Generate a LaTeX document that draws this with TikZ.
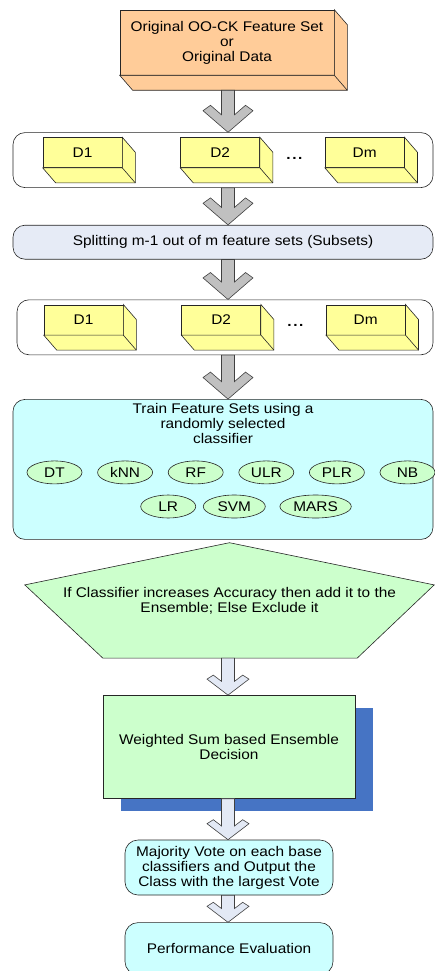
\documentclass[tikz,border=0pt]{standalone}
\usepackage{fontspec}
\setmainfont{Liberation Sans}[FakeStretch=1.1]
\usetikzlibrary{shadows, positioning, calc, shapes, backgrounds}

\definecolor{boxorange}{HTML}{FFCC99}
\definecolor{boxyellow}{HTML}{FFFF99}
\definecolor{boxsplit}{HTML}{E6EBF6}
\definecolor{boxcyan}{HTML}{CCFFFF}
\definecolor{boxgreen}{HTML}{CCFFCC}
\definecolor{shadowblue}{HTML}{4674C4}
\definecolor{arrowgray}{HTML}{C0C0C0}
\definecolor{arrowlight}{HTML}{E3E9F5}

\tikzset{
  boxline/.style={draw=black!85, line width=0.6pt},
  arrowline/.style={draw=black!75, line width=0.6pt, line join=miter},
  cubebox/.style={rectangle, boxline, align=center},
  dbox/.style={cubebox, fill=boxyellow, minimum width=79pt, minimum height=30pt},
  holder/.style={rectangle, boxline, rounded corners=12pt},
  algo/.style={ellipse, boxline, fill=boxgreen, inner sep=3pt, minimum width=55pt, minimum height=23pt},
  stage/.style={rectangle, boxline, align=center, inner sep=3pt},
  dotsnode/.style={inner sep=0pt, font=\fontsize{14}{15}\selectfont\bfseries}
}

% bottom and right faces of a box node
\newcommand{\cubeside}[2]{%
  \filldraw[fill=#2, boxline] (#1.south west) -- ([shift={(13pt,-15pt)}]#1.south west)
    -- ([shift={(13pt,-15pt)}]#1.south east) -- ([shift={(13pt,-15pt)}]#1.north east)
    -- (#1.north east) -- (#1.south east) -- cycle;
  \draw[boxline] (#1.south east) -- ([shift={(13pt,-15pt)}]#1.south east);
}

% block arrow: fill, start, tip, half width, head height
\newcommand{\chev}[5]{%
  \pgfmathsetmacro\chW{#4}%
  \pgfmathsetmacro\chH{#5}%
  \pgfmathsetmacro\chA{0.8*\chH}%
  \pgfmathsetmacro\chC{0.3*\chW}%
  \pgfmathsetmacro\chI{\chH-\chA/\chW*(\chW-\chC-6.5)}%
  \filldraw[fill=#1, arrowline] let \p3=(axis), \p1=(#2), \p2=(#3) in
    (\x3,\y2) -- ({\x3-\chW pt},{\y2+\chA pt}) -- ({\x3-\chW pt+\chC pt},{\y2+\chH pt})
    -- ({\x3-6.5pt},{\y2+\chI pt}) -- ({\x3-6.5pt},\y1) -- ({\x3+6.5pt},\y1)
    -- ({\x3+6.5pt},{\y2+\chI pt}) -- ({\x3+\chW pt-\chC pt},{\y2+\chH pt})
    -- ({\x3+\chW pt},{\y2+\chA pt}) -- cycle;
}

\begin{document}
\begin{tikzpicture}[x=1pt, y=1pt, font=\fontsize{14}{15}\selectfont]
\useasboundingbox (0,0) rectangle (434,-971);
\coordinate (axis) at (228,0);

% source data
\node[cubebox, fill=boxorange, minimum width=214pt, minimum height=65pt] (orig) at (227,-42.5)
  {Original OO-CK Feature Set\\or\\Original Data};
\cubeside{orig}{boxorange}

% feature sets
\node[holder, below=57pt of orig, xshift=-4pt, minimum width=420pt, minimum height=55pt] (sets) {};
\node[dbox, below right=5pt and 30pt of sets.north west] (setsA) {D1};
\node[dbox, right=58pt of setsA] (setsB) {D2};
\node[dbox, right=65pt of setsB] (setsM) {Dm};
\node[dotsnode, xshift=2pt, yshift=-6pt] (setsDots) at ($(setsB.east)!0.5!(setsM.west)$) {.\kern1.5pt.\kern1.5pt.};
\cubeside{setsA}{boxyellow}
\cubeside{setsB}{boxyellow}
\cubeside{setsM}{boxyellow}

\node[stage, holder, fill=boxsplit, below=37pt of sets, minimum width=420pt, minimum height=34pt] (split)
  {Splitting m-1 out of m feature sets (Subsets)};

% subsets
\node[holder, below=40pt of split, xshift=2pt, minimum width=416pt, minimum height=55pt] (subs) {};
\node[dbox, below right=5pt and 27pt of subs.north west] (subsA) {D1};
\node[dbox, right=58pt of subsA] (subsB) {D2};
\node[dbox, right=65pt of subsB] (subsM) {Dm};
\node[dotsnode, xshift=2pt, yshift=-6pt] (subsDots) at ($(subsB.east)!0.5!(subsM.west)$) {.\kern1.5pt.\kern1.5pt.};
\cubeside{subsA}{boxyellow}
\cubeside{subsB}{boxyellow}
\cubeside{subsM}{boxyellow}

% training with a random classifier
\node[holder, fill=boxcyan, below=44pt of subs, xshift=-2pt, minimum width=420pt, minimum height=140pt] (train) {};
\node[align=center, below=1pt of train.north] (trainTxt) {Train Feature Sets using a\\randomly selected\\classifier};
\node[algo, right=14pt of train.west, yshift=-3pt] (dt) {DT};
\node[algo, right=15pt of dt] (knn) {kNN};
\node[algo, right=15pt of knn] (rf) {RF};
\node[algo, right=15pt of rf] (ulr) {ULR};
\node[algo, right=15pt of ulr] (plr) {PLR};
\node[algo, right=15pt of plr] (nb) {NB};
\node[algo, minimum width=62pt, below=10.5pt of ulr, xshift=-32pt] (svm) {SVM};
\node[algo, left=7pt of svm] (lr) {LR};
\node[algo, right=14pt of svm] (mars) {MARS};

% selection step
\node[align=center, below=3pt of train, xshift=6.5pt, minimum width=409pt, minimum height=115pt] (select)
  {If Classifier increases Accuracy then add it to the\\Ensemble; Else Exclude it};
\begin{scope}[on background layer]
  \filldraw[fill=boxgreen, boxline] (select.north) -- ([yshift=15.5pt]select.east)
    -- ([xshift=-77pt]select.south east) -- ([xshift=78pt]select.south west)
    -- ([yshift=15.5pt]select.west) -- cycle;
\end{scope}

\node[stage, fill=boxgreen, below=37pt of select, xshift=-0.5pt, minimum width=252pt, minimum height=103pt,
  general shadow={shadow xshift=18pt, shadow yshift=-13pt, fill=shadowblue}] (ensemble)
  {Weighted Sum based Ensemble\\Decision};

\node[stage, fill=boxcyan, rounded corners=13pt, below=41pt of ensemble, minimum width=208pt, minimum height=55pt] (vote)
  {Majority Vote on each base\\classifiers and Output the\\Class with the largest Vote};
\node[stage, fill=boxcyan, rounded corners=13pt, below=27pt of vote, minimum width=208pt, minimum height=52pt] (perf)
  {Performance Evaluation};

% arrows
\chev{arrowgray}{[yshift=-15pt]orig.south}{sets.north}{25}{27}
\chev{arrowgray}{sets.south}{split.north}{25}{27}
\chev{arrowgray}{split.south}{subs.north}{25}{27}
\chev{arrowgray}{subs.south}{train.north}{25}{27}
\chev{arrowlight}{select.south}{ensemble.north}{21}{20}
\chev{arrowlight}{ensemble.south}{vote.north}{21}{20}
\chev{arrowlight}{vote.south}{perf.north}{21}{20}
\end{tikzpicture}
\end{document}
